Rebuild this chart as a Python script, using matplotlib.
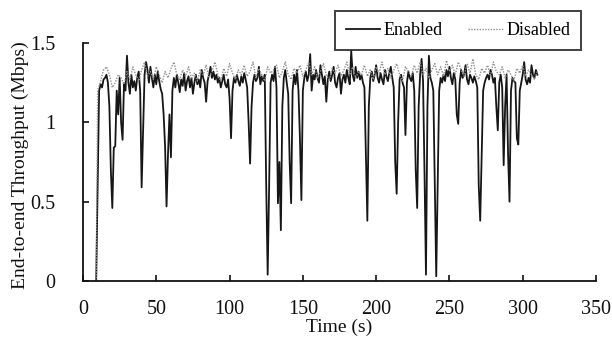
import numpy as np
import matplotlib
matplotlib.use("Agg")
import matplotlib.pyplot as plt

# ---- data ----
enabled_time = np.arange(9, 311)
enabled = [
    0.00, 0.58, 1.20, 1.24, 1.22, 1.27, 1.28, 1.30, 1.25, 1.10,
    0.70, 0.46, 0.84, 0.85, 1.20, 1.05, 1.28, 1.00, 0.89, 1.25,
    1.20, 1.42, 1.25, 1.18, 1.30, 1.22, 1.26, 1.20, 1.28, 1.32,
    1.20, 0.59, 0.95, 1.30, 1.38, 1.33, 1.25, 1.35, 1.28, 1.22,
    1.30, 1.24, 1.32, 1.26, 1.21, 1.18, 1.05, 0.85, 0.47, 0.80,
    1.05, 0.78, 1.20, 1.28, 1.22, 1.30, 1.25, 1.19, 1.27, 1.23,
    1.31, 1.20, 1.26, 1.29, 1.22, 1.28, 1.18, 1.25, 1.30, 1.24,
    1.27, 1.22, 1.33, 1.28, 1.25, 1.13, 1.26, 1.30, 1.35, 1.28,
    1.32, 1.27, 1.30, 1.25, 1.28, 1.22, 1.26, 1.30, 1.24, 1.22,
    1.27, 1.15, 0.90, 1.20, 1.28, 1.25, 1.30, 1.26, 1.23, 1.29,
    1.25, 1.31, 1.27, 1.22, 1.00, 0.74, 1.10, 1.25, 1.30, 1.26,
    1.28, 1.35, 1.24, 1.29, 1.26, 1.30, 0.60, 0.04, 0.60, 1.25,
    1.30, 1.26, 1.35, 1.22, 0.49, 0.75, 0.32, 1.10, 1.28, 1.33,
    1.25, 1.18, 0.75, 0.49, 1.20, 1.30, 1.24, 1.33, 1.20, 0.90,
    0.51, 1.20, 1.28, 1.32, 1.26, 1.30, 1.43, 1.20, 1.30, 1.27,
    1.33, 1.28, 1.25, 1.36, 1.30, 1.24, 1.29, 1.13, 1.27, 1.32,
    1.26, 1.30, 1.35, 1.25, 1.22, 1.28, 1.31, 1.18, 1.27, 1.30,
    1.25, 1.33, 1.28, 1.24, 1.45, 1.30, 1.26, 1.35, 1.28, 1.32,
    1.27, 1.30, 1.25, 1.22, 0.80, 0.38, 1.10, 1.28, 1.32, 1.26,
    1.30, 1.36, 1.28, 1.25, 1.31, 1.27, 1.24, 1.33, 1.29, 1.26,
    1.31, 1.35, 1.28, 1.22, 0.75, 0.55, 1.00, 1.27, 1.30, 1.25,
    1.22, 0.92, 1.25, 1.32, 1.28, 1.26, 1.31, 1.20, 0.70, 0.46,
    1.10, 1.30, 1.40, 1.26, 0.68, 0.04, 1.10, 1.42, 1.28, 1.25,
    1.20, 0.60, 0.03, 0.60, 1.20, 1.28, 1.25, 1.30, 1.26, 1.33,
    1.29, 1.35, 1.28, 1.24, 1.31, 1.27, 1.05, 0.99, 1.25, 1.33,
    1.28, 1.30, 1.36, 1.27, 1.24, 1.30, 1.28, 1.25, 1.29, 1.26,
    1.22, 0.60, 0.38, 0.80, 1.20, 1.25, 1.28, 1.30, 1.27, 1.33,
    1.30, 1.25, 1.28, 1.10, 0.95, 1.25, 1.30, 1.22, 0.73, 1.10,
    1.30, 0.80, 0.50, 1.20, 1.28, 1.26, 1.25, 0.90, 0.86, 1.20,
    1.25, 1.30, 1.38, 1.27, 1.24, 1.28, 1.25, 1.36, 1.30, 1.28,
    1.33, 1.30,
]

disabled_time = np.concatenate([[9, 10], np.arange(12, 311, 2)])
disabled = [
    0.00, 1.20,
    1.26, 1.33, 1.35, 1.30, 1.22, 1.25, 1.30, 1.28, 1.24, 1.32,
    1.27, 1.35, 1.30, 1.26, 1.33, 1.38, 1.29, 1.32, 1.27, 1.35,
    1.30, 1.25, 1.32, 1.28, 1.34, 1.38, 1.30, 1.27, 1.33, 1.29,
    1.35, 1.28, 1.31, 1.26, 1.33, 1.30, 1.36, 1.28, 1.32, 1.38,
    1.30, 1.26, 1.34, 1.29, 1.37, 1.31, 1.27, 1.33, 1.30, 1.36,
    1.29, 1.32, 1.38, 1.28, 1.34, 1.30, 1.26, 1.35, 1.31, 1.33,
    1.36, 1.28, 1.32, 1.38, 1.30, 1.27, 1.34, 1.31, 1.36, 1.29,
    1.33, 1.38, 1.30, 1.35, 1.28, 1.32, 1.37, 1.30, 1.26, 1.34,
    1.31, 1.36, 1.29, 1.33, 1.38, 1.30, 1.35, 1.28, 1.32, 1.30,
    1.36, 1.29, 1.33, 1.27, 1.35, 1.31, 1.38, 1.30, 1.34, 1.28,
    1.33, 1.37, 1.30, 1.26, 1.35, 1.32, 1.29, 1.36, 1.31, 1.38,
    1.30, 1.34, 1.28, 1.33, 1.37, 1.30, 1.35, 1.29, 1.39, 1.32,
    1.36, 1.30, 1.38, 1.33, 1.29, 1.37, 1.31, 1.40, 1.30, 1.27,
    1.34, 1.31, 1.36, 1.29, 1.38, 1.32, 1.30, 1.35, 1.28, 1.33,
    1.30, 1.26, 1.34, 1.31, 1.36, 1.29, 1.33, 1.30, 1.27, 1.32,
]

x_ticks = [0, 50, 100, 150, 200, 250, 300, 350]
y_ticks = [0, 0.5, 1, 1.5]
y_tick_labels = ["0", "0.5", "1", "1.5"]

plt.rcParams["font.family"] = ["Liberation Serif", "DejaVu Serif"]

fig = plt.figure(figsize=(6.12, 3.37), dpi=100)
ax = fig.add_axes([83 / 612, 1 - 281 / 337, (596 - 83) / 612, (281 - 43) / 337])

ax.plot(enabled_time, enabled, color="#161616", lw=1.3, label="Enabled")
ax.plot(disabled_time, disabled, color="#909090", lw=1.0, ls=(0, (1, 1)),
        label="Disabled")

ax.set_xlim(0, 350)
ax.set_ylim(0, 1.5)
ax.set_xticks(x_ticks)
ax.set_yticks(y_ticks)
ax.set_yticklabels(y_tick_labels)
ax.spines["top"].set_visible(False)
ax.spines["right"].set_visible(False)
for s in ("left", "bottom"):
    ax.spines[s].set_linewidth(1.3)
    ax.spines[s].set_color("#111111")
ax.tick_params(axis="both", direction="in", length=4, width=1.2,
               labelsize=14.5, colors="#111111")
ax.tick_params(axis="x", pad=14)
ax.tick_params(axis="y", pad=20)

fig.text(339 / 612, 1 - 327 / 337, "Time (s)", ha="center", va="center",
         fontsize=14, color="#111111")
fig.text(20 / 612, 1 - 165 / 337, "End-to-end Throughput (Mbps)",
         rotation=90, ha="center", va="center", fontsize=14, color="#111111")

leg = ax.legend(loc="upper right", bbox_to_anchor=(581 / 612, 1 - 11 / 337),
                bbox_transform=fig.transFigure, ncol=2, fontsize=13,
                frameon=True, fancybox=False, handlelength=1.9,
                handletextpad=0.2, columnspacing=1.4, borderpad=0.6,
                borderaxespad=0)
leg.get_frame().set_edgecolor("#111111")
leg.get_frame().set_linewidth(1.4)

fig.savefig("out.png", dpi=100)
